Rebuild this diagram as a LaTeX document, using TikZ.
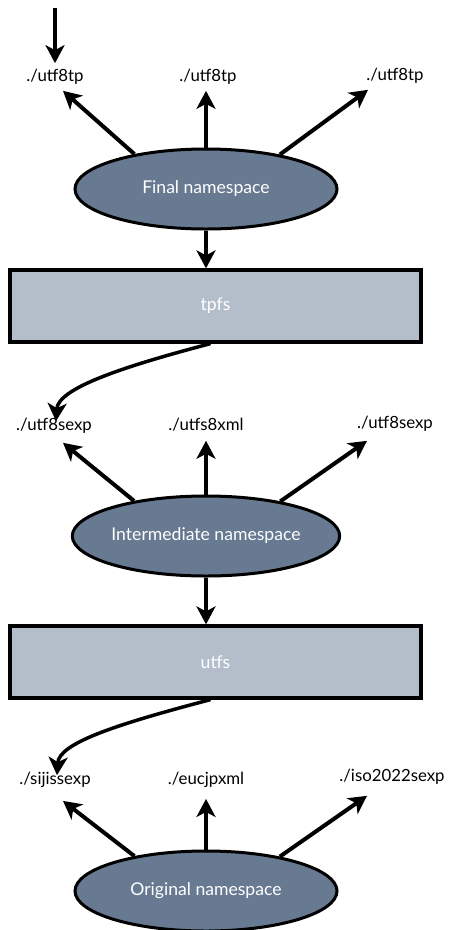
\documentclass[tikz,border=0pt]{standalone}
\usepackage{fontspec}
\setmainfont{Lato}
\usetikzlibrary{shapes.geometric,arrows.meta}
\definecolor{nsfill}{HTML}{687A91}
\definecolor{fsfill}{HTML}{B4BDCA}
\begin{document}
\begin{tikzpicture}[x=1pt,y=-1pt,
  ns/.style={ellipse, draw=black, line width=3pt, fill=nsfill,
    minimum width=262pt, minimum height=80pt, inner sep=0pt,
    text=white, font=\fontsize{17.6}{20}\selectfont},
  fs/.style={rectangle, draw=black, line width=3.2pt, fill=fsfill,
    minimum width=411pt, minimum height=72pt, inner sep=0pt,
    text=white, font=\fontsize{17.6}{20}\selectfont},
  lbl/.style={inner sep=0pt, font=\fontsize{16.8}{20}\selectfont},
  arr/.style={line width=4pt, -{Stealth[length=18pt,width=19pt,inset=5pt]}},
  link/.style={line width=3.5pt, -{Stealth[length=18pt,width=19pt,inset=5pt]}}
]
\useasboundingbox (0,0) rectangle (452,930);

% --- final namespace ---
\node[lbl] (a1) at (55,77) {./utf8tp};
\node[lbl] (a2) at (208,77) {./utf8tp};
\node[lbl] (a3) at (395,76) {./utf8tp};
\node[ns] (fin) at (206,189) {Final namespace};
\coordinate (in) at (55,8);
\draw[arr] (in) -- ([yshift=6pt]a1.north);
\draw[arr] (fin.154) -- ([xshift=8pt,yshift=-6pt]a1.south);
\draw[arr] (fin.north) -- ([yshift=-6pt]fin.north |- a2.south);
\draw[arr] (fin.25) -- ([xshift=-27pt,yshift=-6pt]a3.south);

\node[fs] (tpfs) at (215.5,306) {tpfs};
\draw[arr] (fin.south) -- (fin.south |- tpfs.north);

% --- intermediate namespace ---
\node[lbl] (b1) at (54,426) {./utf8sexp};
\node[lbl] (b2) at (206,425) {./utfs8xml};
\node[lbl] (b3) at (395,424) {./utf8sexp};
\node[ns] (mid) at (206,536) {Intermediate namespace};
\draw[link] ([xshift=-5pt]tpfs.south) .. controls +(-95,25) and +(2,-32) .. ([xshift=2pt,yshift=-3pt]b1.north);
\draw[arr] (mid.154) -- ([xshift=9pt,yshift=-9pt]b1.south);
\draw[arr] (mid.north) -- ([yshift=-9pt]mid.north |- b2.south);
\draw[arr] (mid.25) -- ([xshift=-28pt,yshift=-9pt]b3.south);

\node[fs] (utfs) at (215.5,662) {utfs};
\draw[arr] (mid.south) -- (mid.south |- utfs.north);

% --- original namespace ---
\node[lbl] (c1) at (55,780) {./sijissexp};
\node[lbl] (c2) at (206,780) {./eucjpxml};
\node[lbl] (c3) at (392,777) {./iso2022sexp};
\node[ns] (org) at (206,891) {Original namespace};
\draw[link] ([xshift=-5pt]utfs.south) .. controls +(-95,25) and +(2,-32) .. ([xshift=2pt,yshift=-3pt]c1.north);
\draw[arr] (org.154) -- ([xshift=8pt,yshift=-13pt]c1.south);
\draw[arr] (org.north) -- ([yshift=-11pt]org.north |- c2.south);
\draw[arr] (org.25) -- ([xshift=-25pt,yshift=-11pt]c3.south);
\end{tikzpicture}
\end{document}
